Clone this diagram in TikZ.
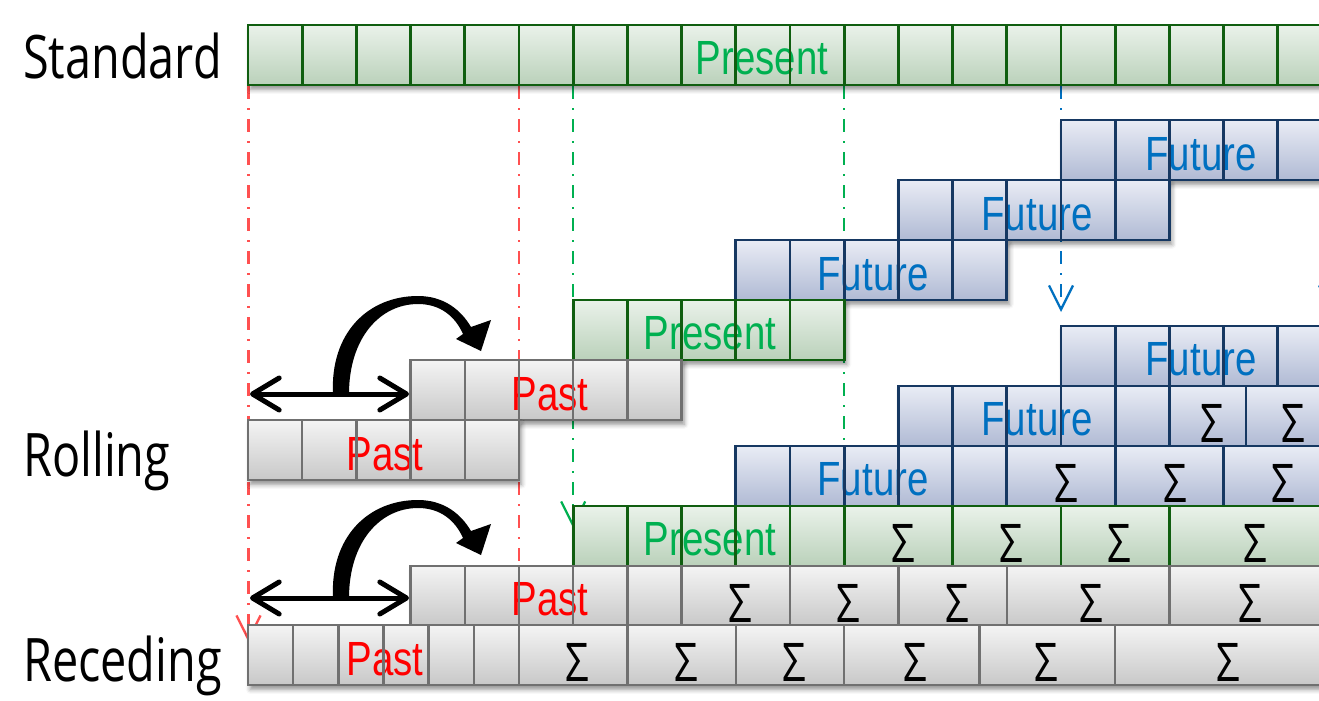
\documentclass[tikz,border=0pt]{standalone}
\usepackage{fontspec}
\setmainfont{Liberation Sans}
\newfontfamily\labfont[FakeStretch=0.78]{Open Sans}
\newfontfamily\boxfont[FakeStretch=0.80]{Liberation Sans}
\usetikzlibrary{arrows.meta,shadows.blur}

\definecolor{grayTop}{RGB}{244,244,244}
\definecolor{grayBot}{RGB}{200,200,200}
\definecolor{grayLine}{RGB}{112,112,112}
\definecolor{greenTop}{RGB}{234,242,234}
\definecolor{greenBot}{RGB}{186,209,186}
\definecolor{greenLine}{RGB}{16,94,16}
\definecolor{blueTop}{RGB}{233,236,245}
\definecolor{blueBot}{RGB}{176,186,212}
\definecolor{blueLine}{RGB}{22,56,98}
\definecolor{pastRed}{RGB}{255,0,0}
\definecolor{presGreen}{RGB}{0,176,80}
\definecolor{futBlue}{RGB}{0,112,192}
\definecolor{guideRed}{RGB}{255,80,80}
\definecolor{guideGreen}{RGB}{0,176,80}
\definecolor{guideBlue}{RGB}{0,112,192}

% a row of cells: kind, top, left, right, inner boundaries, text placed on the fill
\newcommand\cellrow[6]{%
  \path[#1 fill] (#3,#2) rectangle (#4,#2+60);
  #6
  \foreach \xx in {#5} {\draw[#1 line] (\xx,#2) -- (\xx,#2+60);}
  \draw[#1 line] (#3,#2) rectangle (#4,#2+60);
}

\tikzset{
  cellshadow/.style={blur shadow={shadow xshift=1.8pt,shadow yshift=-3.2pt,shadow blur radius=3.5pt,shadow opacity=45}},
  gray fill/.style={top color=grayTop,bottom color=grayBot,cellshadow},
  gray line/.style={draw=grayLine,line width=1.9pt},
  green fill/.style={top color=greenTop,bottom color=greenBot,cellshadow},
  green line/.style={draw=greenLine,line width=2.1pt},
  blue fill/.style={top color=blueTop,bottom color=blueBot,cellshadow},
  blue line/.style={draw=blueLine,line width=2.1pt},
  boxtext/.style={font=\boxfont\fontsize{36pt}{36pt}\selectfont,anchor=base,inner sep=0pt},
  pasttext/.style={boxtext,text=pastRed},
  prestext/.style={boxtext,text=presGreen},
  futtext/.style={boxtext,text=futBlue},
  sumtext/.style={font=\labfont\fontsize{40pt}{40pt}\selectfont,anchor=base,inner sep=0pt,text=black},
  rowlabel/.style={font=\labfont\fontsize{45pt}{45pt}\selectfont,anchor=base west,inner sep=0pt,text=black},
  guide/.style={line width=1.7pt,dash pattern=on 9.75pt off 6.75pt on 1.5pt off 6.75pt,
    -{Straight Barb[length=18pt,width=18pt]}},
  shiftarrow/.style={line width=3.75pt,
    {Straight Barb[length=20pt,width=24pt,round]}-{Straight Barb[length=20pt,width=24pt,round]}},
}

\begin{document}
\begin{tikzpicture}[x=0.75pt,y=-0.75pt]
\useasboundingbox (0,0) rectangle (1319,700);
\clip (0,0) rectangle (1319,700);

% dash-dot guide lines from the standard window
\coordinate (gR1a) at (248.5,86);  \coordinate (gR1b) at (248.5,642);
\coordinate (gR2a) at (519,86);    \coordinate (gR2b) at (519,642);
\coordinate (gG1a) at (573.2,86);  \coordinate (gG1b) at (573.2,528);
\coordinate (gG2a) at (844.2,86);  \coordinate (gG2b) at (844.2,528);
\coordinate (gB1a) at (1061,86);   \coordinate (gB1b) at (1061,312);
\coordinate (gB2a) at (1331,86);   \coordinate (gB2b) at (1331,312);
\draw[guide,guideRed] (gR1a) -- (gR1b);
\draw[guide,guideRed] (gR2a) -- (gR2b);
\draw[guide,guideGreen] (gG1a) -- (gG1b);
\draw[guide,guideGreen] (gG2a) -- (gG2b);
\draw[guide,guideBlue] (gB1a) -- (gB1b);
\draw[guide,guideBlue] (gB2a) -- (gB2b);

% standard split
\cellrow{green}{25}{248}{1350}{302.2,356.4,410.6,464.8,519,573.2,627.4,681.6,735.8,790,844.2,898.4,952.6,1006.8,1061,1115.2,1169.4,1223.6,1277.8,1332}
  {\node[prestext] (stdPres) at (762,74) {Present};}

% rolling windows
\cellrow{blue}{120}{1061}{1332}{1115.2,1169.4,1223.6,1277.8}
  {\node[futtext] (rolFut3) at (1201,170) {Future};}
\cellrow{blue}{180}{898.4}{1169.4}{952.6,1006.8,1061,1115.2}
  {\node[futtext] (rolFut2) at (1037,230) {Future};}
\cellrow{blue}{240}{735.8}{1006.8}{790,844.2,898.4,952.6}
  {\node[futtext] (rolFut1) at (873,290) {Future};}
\cellrow{green}{300}{573.2}{844.2}{627.4,681.6,735.8,790}
  {\node[prestext] (rolPres) at (710,349) {Present};}
\cellrow{gray}{360}{410.6}{681.6}{464.8,519,573.2,627.4}
  {\node[pasttext] (rolPast2) at (550,410) {Past};}
\cellrow{gray}{420}{248}{519}{302.2,356.4,410.6,464.8}
  {\node[pasttext] (rolPast1) at (385,470) {Past};}

% receding windows
\cellrow{blue}{326}{1061}{1332}{1115.2,1169.4,1223.6,1277.8}
  {\node[futtext] (recFut3) at (1201,375) {Future};}
\cellrow{blue}{386}{898.4}{1345}{952.6,1006.8,1061,1115.2,1169.4,1246}
  {\node[futtext] (recFut2) at (1037,435) {Future};
   \node[sumtext] (s51) at (1212,442) {Σ};
   \node[sumtext] (s52) at (1293,442) {Σ};}
\cellrow{blue}{446}{735.8}{1345}{790,844.2,898.4,952.6,1006.8,1115.2,1223.6}
  {\node[futtext] (recFut1) at (873,495) {Future};
   \node[sumtext] (s41) at (1066,502) {Σ};
   \node[sumtext] (s42) at (1175,502) {Σ};
   \node[sumtext] (s43) at (1283,502) {Σ};}
\cellrow{green}{506}{573.2}{1345}{627.4,681.6,735.8,790,844.2,952.6,1061,1169.4}
  {\node[prestext] (recPres) at (710,555) {Present};
   \node[sumtext] (s31) at (903,562) {Σ};
   \node[sumtext] (s32) at (1011,562) {Σ};
   \node[sumtext] (s33) at (1119,562) {Σ};
   \node[sumtext] (s34) at (1255,562) {Σ};}
\cellrow{gray}{566}{410.6}{1345}{464.8,519,573.2,627.4,681.6,790,898.4,1006.8,1169.4}
  {\node[pasttext] (recPast2) at (550,615) {Past};
   \node[sumtext] (s21) at (740,622) {Σ};
   \node[sumtext] (s22) at (848,622) {Σ};
   \node[sumtext] (s23) at (957,622) {Σ};
   \node[sumtext] (s24) at (1091,622) {Σ};
   \node[sumtext] (s25) at (1250,622) {Σ};}
\cellrow{gray}{625}{248}{1345}{293.2,338.3,383.5,428.7,473.8,519,627.4,735.8,844.2,979.7,1115.2}
  {\node[pasttext] (recPast1) at (385,675) {Past};
   \node[sumtext] (s11) at (577,681) {Σ};
   \node[sumtext] (s12) at (686,681) {Σ};
   \node[sumtext] (s13) at (794,681) {Σ};
   \node[sumtext] (s14) at (915,681) {Σ};
   \node[sumtext] (s15) at (1046,681) {Σ};
   \node[sumtext] (s16) at (1228,681) {Σ};}

% window shift arrows
\foreach \dy/\nm in {0/rol,204/rec}{
  \begin{scope}[shift={(0,\dy)}]
    \coordinate (\nm L) at (250,394);
    \coordinate (\nm R) at (409,394);
    \draw[shiftarrow] (\nm L) -- (\nm R);
    \fill (333,394) .. controls (330,333) and (368,296) .. (418,296)
      .. controls (444,296) and (461,310) .. (471,327)
      -- (491,320) -- (481,351) -- (456,339) -- (463,334)
      .. controls (455,316) and (440,304) .. (418,304)
      .. controls (380,304) and (349,338) .. (349,394) -- cycle;
  \end{scope}
}

% row labels
\node[rowlabel] (labStd) at (23,78) {Standard};
\node[rowlabel] (labRol) at (23,476) {Rolling};
\node[rowlabel] (labRec) at (23,681) {Receding};
\end{tikzpicture}
\end{document}
